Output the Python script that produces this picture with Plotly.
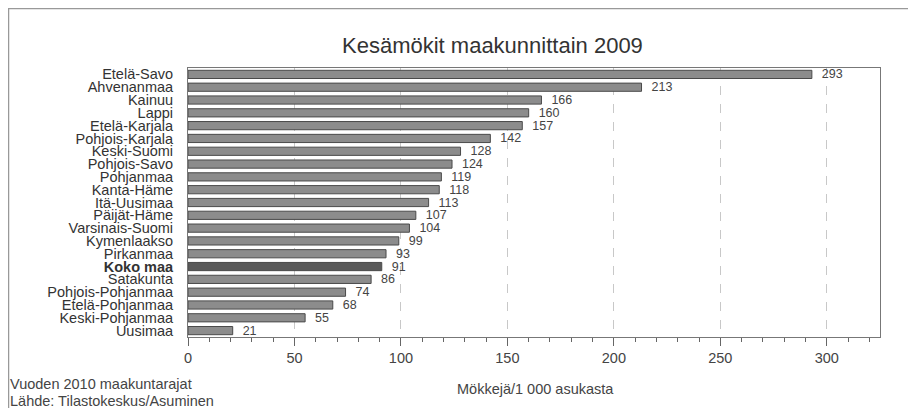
import plotly.graph_objects as go

regions = ["Etelä-Savo", "Ahvenanmaa", "Kainuu", "Lappi", "Etelä-Karjala",
           "Pohjois-Karjala", "Keski-Suomi", "Pohjois-Savo", "Pohjanmaa",
           "Kanta-Häme", "Itä-Uusimaa", "Päijät-Häme", "Varsinais-Suomi",
           "Kymenlaakso", "Pirkanmaa", "Koko maa", "Satakunta",
           "Pohjois-Pohjanmaa", "Etelä-Pohjanmaa", "Keski-Pohjanmaa", "Uusimaa"]
values = [293, 213, 166, 160, 157, 142, 128, 124, 119, 118, 113, 107, 104,
          99, 93, 91, 86, 74, 68, 55, 21]
x_ticks = [0, 50, 100, 150, 200, 250, 300]

# page body has an 8px margin; figure coordinates = reference pixels - 8
OFF = 8
W, H = 900, 400
L, R, T, B = 188 - OFF, 36 - OFF, 68 - OFF, 79 - OFF
pw, ph = W - L - R, H - T - B

def px(x):
    return (x - OFF - L) / pw

def py(y):
    return (H - B - (y - OFF)) / ph

FONT = "Liberation Sans, Arial, sans-serif"
colors = ["#5a5a5a" if r == "Koko maa" else "#8c8c8c" for r in regions]
ticktext = ["<b>Koko maa</b>" if r == "Koko maa" else r for r in regions]

fig = go.Figure()
fig.add_trace(go.Bar(
    x=values, y=regions, orientation="h",
    marker=dict(color=colors, line=dict(color="#4a4a4a", width=1)),
    width=0.64,
    text=values, texttemplate="\u00a0\u00a0%{x}",
    textposition="outside", constraintext="none",
    textfont=dict(size=12.5, color="#444444", family=FONT),
    cliponaxis=False,
))

fig.update_layout(
    width=W, height=H,
    margin=dict(l=L, r=R, t=T, b=B, autoexpand=False),
    paper_bgcolor="white", plot_bgcolor="white",
    font=dict(family=FONT, color="#333333"),
    showlegend=False,
    bargap=0.36,
)

fig.update_xaxes(
    range=[0, 325], tickvals=x_ticks, ticks="outside", ticklen=8,
    tickcolor="#666666", tickfont=dict(size=14.5, color="#444444"),
    showgrid=True, gridcolor="#c8c8c8", griddash="dash", gridwidth=1,
    showline=True, linecolor="#777777", mirror=True, zeroline=False,
    minor=dict(dtick=10, ticks="outside", ticklen=4, tickcolor="#666666", showgrid=False),
    automargin=False,
)
fig.update_yaxes(
    autorange="reversed", tickvals=regions, ticktext=ticktext,
    ticks="", tickfont=dict(size=14.5, color="#333333"),
    showline=True, linecolor="#777777", mirror=True, showgrid=False,
    ticklabelstandoff=11, automargin=False,
)

fig.add_annotation(text="Kesämökit maakunnittain 2009", xref="paper", yref="paper",
                   x=px(492), y=py(45), xanchor="center", yanchor="middle",
                   showarrow=False, font=dict(size=22, color="#333333"))
fig.add_annotation(text="Mökkejä/1 000 asukasta", xref="paper", yref="paper",
                   x=px(535), y=py(389), xanchor="center", yanchor="middle",
                   showarrow=False, font=dict(size=14.5, color="#444444"))
fig.add_annotation(text="Vuoden 2010 maakuntarajat", xref="paper", yref="paper",
                   x=px(8), y=py(384), xanchor="left", yanchor="middle",
                   showarrow=False, font=dict(size=14.5, color="#444444"))
fig.add_annotation(text="Lähde: Tilastokeskus/Asuminen", xref="paper", yref="paper",
                   x=px(8), y=py(400.5), xanchor="left", yanchor="middle",
                   showarrow=False, font=dict(size=14.5, color="#444444"))

fig.add_shape(type="rect", xref="paper", yref="paper",
              x0=px(8.5), x1=px(912), y0=py(430), y1=py(8.5),
              line=dict(color="#999999", width=1.5), layer="below")

fig.write_html("out.html")
